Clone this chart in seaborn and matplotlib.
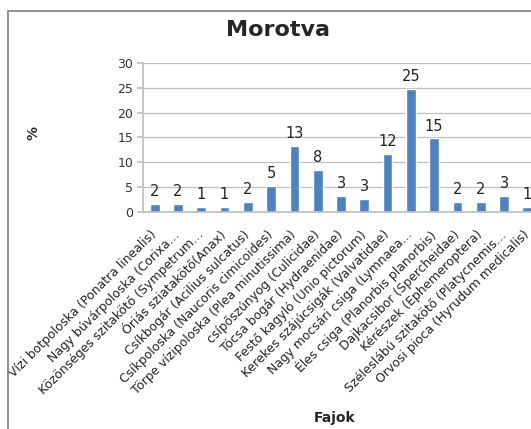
import matplotlib
matplotlib.use("Agg")
import matplotlib.pyplot as plt
import seaborn as sns
import pandas as pd
from matplotlib.patches import Rectangle

# data
fajok = [
    "Vízi botpoloska (Ponatra linealis)",
    "Nagy búvárpoloska (Corixa…",
    "Közönséges szitakötő (Sympetrum…",
    "Óriás sziatakötő(Anax)",
    "Csíkbogár (Acilius sulcatus)",
    "Csíkpoloska (Naucoris cimicoides)",
    "Törpe vízipoloska (Plea minutissima)",
    "csípőszúnyog (Culicidae)",
    "Tócsa bogár (Hydraenidae)",
    "Festő kagyló (Unio pictorum)",
    "Kerekes szájúcsigák (Valvatidae)",
    "Nagy mocsári csiga (Lymnaea…",
    "Éles csiga (Planorbis planorbis)",
    "Dajkacsibor (Spercheidae)",
    "Kérészek (Ephemeroptera)",
    "Széleslábú szitakötő (Platycnemis…",
    "Orvosi pioca (Hyrudum medicalis)",
]
szazalek = [1.7, 1.7, 1.1, 1.1, 2.1, 5.3, 13.2, 8.5, 3.3, 2.7, 11.7, 24.8, 14.8, 2.1, 2.1, 3.3, 1.1]
cimkek = ["2", "2", "1", "1", "2", "5", "13", "8", "3", "3", "12", "25", "15", "2", "2", "3", "1"]

df = pd.DataFrame({"Faj": fajok, "Szazalek": szazalek})

sns.set_theme(style="white")
plt.rcParams["font.family"] = ["DejaVu Sans"]

W, H = 531, 429
fig = plt.figure(figsize=(W / 100, H / 100), dpi=100)

# outer chart frame (clipped on the right/bottom like the original)
fig.patches.append(Rectangle((8 / W, -0.1), 1.2, (H - 11) / H + 0.1,
                             transform=fig.transFigure, fill=False,
                             edgecolor="#7f7f7f", linewidth=1.2))

# plot area runs past the right edge of the image
left, right = 143, 539
top, bottom = 63, 212
ax = fig.add_axes([left / W, 1 - bottom / H, (right - left) / W, (bottom - top) / H])

sns.barplot(data=df, x="Faj", y="Szazalek", color="#4F81BD", width=0.42,
            saturation=1, ax=ax)

for i, (v, t) in enumerate(zip(szazalek, cimkek)):
    ax.text(i, v + 1.0, t, ha="center", va="bottom", fontsize=10.5, color="#222222")

ax.set_ylim(0, 30)
ax.set_yticks(range(0, 31, 5))
ax.set_xlim(-0.5, len(fajok) - 0.5)
ax.yaxis.grid(True, color="#bfbfbf", linewidth=0.9)
ax.set_axisbelow(True)
for s in ["top", "right"]:
    ax.spines[s].set_visible(False)
ax.spines["left"].set_color("#bfbfbf")
ax.spines["bottom"].set_color("#bfbfbf")
ax.tick_params(axis="y", left=True, length=4, color="#bfbfbf", labelsize=9,
               labelcolor="#333333", pad=3)
ax.tick_params(axis="x", bottom=False, pad=9)
ax.set_xticks(range(len(fajok)))
ax.set_xticklabels(fajok, rotation=45, ha="right", va="center",
                   rotation_mode="anchor", fontsize=8.9, color="#222222")
ax.set_xlabel("")
ax.set_ylabel("")

fig.text(278 / W, 1 - 30 / H, "Morotva", ha="center", va="center",
         fontsize=16, fontweight="bold")
fig.text(33 / W, 1 - 133 / H, "%", ha="center", va="center",
         fontsize=10, fontweight="bold", rotation=90)
fig.text(335 / W, 1 - 418 / H, "Fajok", ha="center", va="center",
         fontsize=10, fontweight="bold")

fig.savefig("out.png", dpi=100)
